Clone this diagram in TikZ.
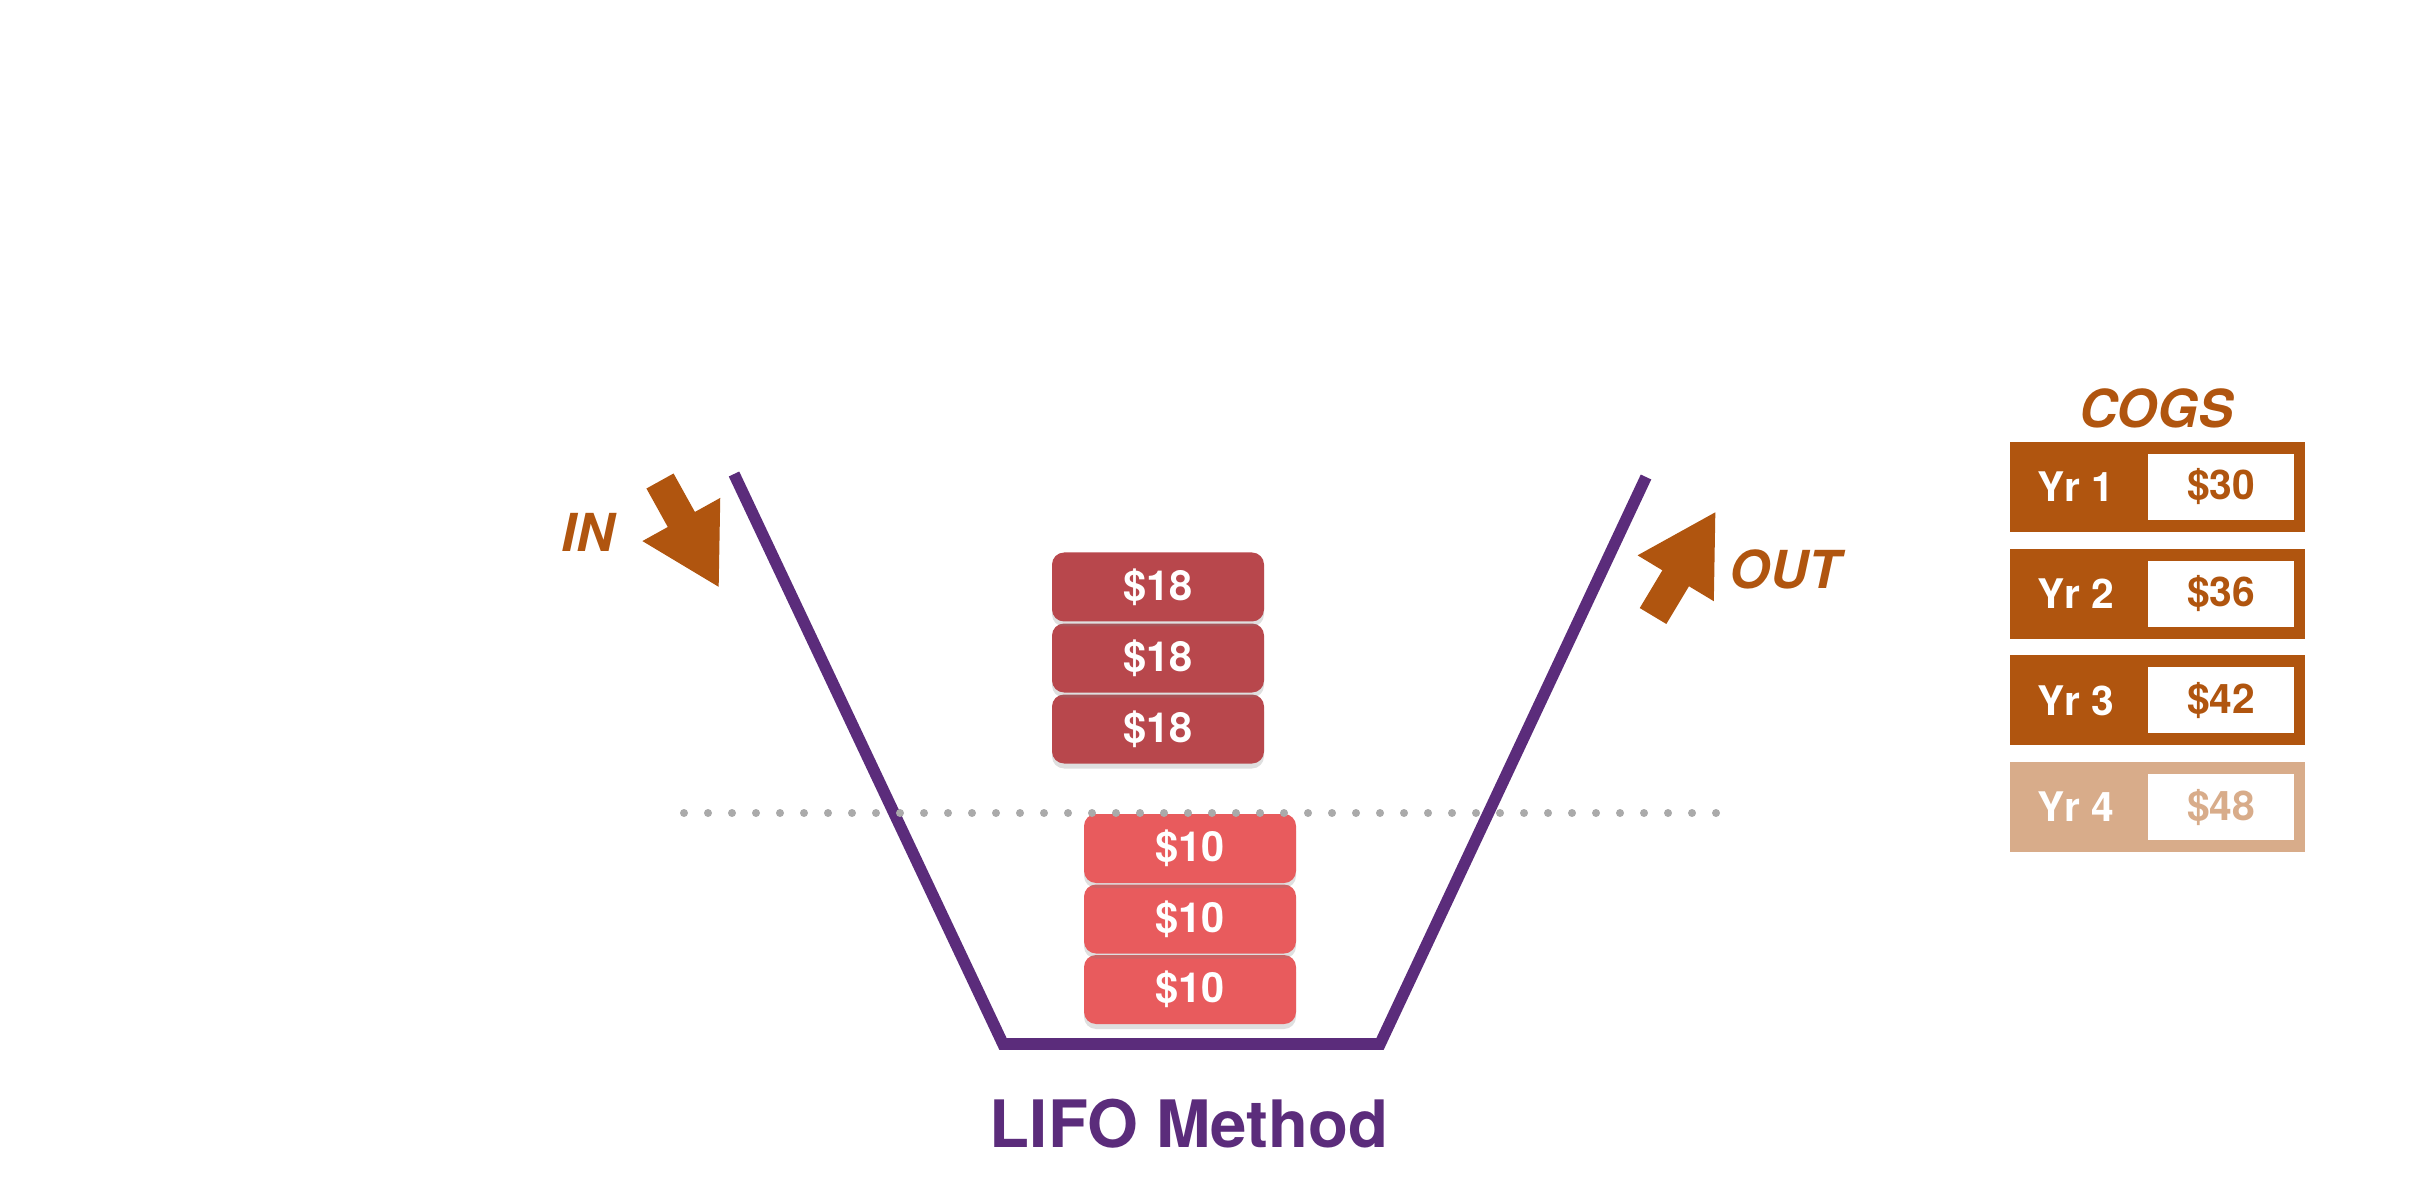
\documentclass[tikz,border=0pt]{standalone}
\usepackage{fontspec}
\setmainfont{TeX Gyre Heros}
\usetikzlibrary{shadows}

\definecolor{lifopurple}{RGB}{91,44,123}
\definecolor{cogsbrown}{RGB}{176,85,15}
\definecolor{cogslight}{RGB}{216,172,138}
\definecolor{newred}{RGB}{184,71,76}
\definecolor{oldred}{RGB}{232,91,93}
\definecolor{dotgray}{RGB}{170,170,170}

\begin{document}
\begin{tikzpicture}[x=0.1mm, y=-0.1mm,
    layer/.style={rounded corners=1.2mm, minimum width=21.2mm, minimum height=6.9mm,
        inner sep=0pt, text=white, font=\fontsize{11.8}{13}\selectfont\bfseries,
        drop shadow={shadow xshift=0pt, shadow yshift=-0.5mm, opacity=0.25}},
    bucket/.style={line width=3.3pt, draw=lifopurple, line join=miter},
    flowlabel/.style={text=cogsbrown, inner sep=0pt, font=\fontsize{14.9}{17}\selectfont\bfseries\itshape},
    blockarrow/.style={fill=cogsbrown},
    cogsrow/.style={fill=#1, minimum width=29.5mm, minimum height=9mm, inner sep=0pt},
    cogsval/.style={fill=white, text=#1, minimum width=14.6mm, minimum height=6.6mm, inner sep=0pt,
        font=\fontsize{11.6}{13}\selectfont\bfseries},
    yrlabel/.style={text=white, inner sep=0pt, font=\fontsize{11.6}{13}\selectfont\bfseries}]
    % --- 1. Parameters ---
    \def\shaftL{44}
    \def\shaftW{15.5}
    \def\headW{44.5}
    \def\arrowL{121}
    \def\rowGap{106.7}

    \useasboundingbox (0,0) rectangle (2426,1192);

    % --- 2. Bucket ---
    \coordinate (inTop) at (734,474);
    \coordinate (leftFoot) at (1003,1044);
    \coordinate (rightFoot) at (1380,1044);
    \coordinate (outTop) at (1646,477);
    \draw[bucket] (inTop) -- (leftFoot) -- (rightFoot) -- (outTop);

    % --- 3. Layers (old at the bottom, new on top) ---
    \foreach \i in {1,2,3}
        \node[layer, fill=oldred] (old\i) at (1190,{1060-70.5*\i}) {\$10};
    \foreach \i in {1,2,3}
        \node[layer, fill=newred] (new\i) at (1158,{800-71*\i}) {\$18};

    % dotted divider
    \foreach \k in {0,...,43}
        \fill[dotgray] ({684+24*\k},813) circle (0.4mm);

    % --- 4. IN and OUT arrows ---
    \fill[blockarrow, shift={(660,481)}, rotate=-61]
        (0,-\shaftW) -- (\shaftL,-\shaftW) -- (\shaftL,-\headW) -- (\arrowL,0)
        -- (\shaftL,\headW) -- (\shaftL,\shaftW) -- (0,\shaftW) -- cycle;
    \node[flowlabel] (inlabel) at (588,532) {IN};

    \fill[blockarrow, shift={(1653,616)}, rotate=59]
        (0,-\shaftW) -- (\shaftL,-\shaftW) -- (\shaftL,-\headW) -- (\arrowL,0)
        -- (\shaftL,\headW) -- (\shaftL,\shaftW) -- (0,\shaftW) -- cycle;
    \node[flowlabel] (outlabel) at (1785,569) {OUT};

    % --- 5. COGS table ---
    \node[flowlabel] (cogs) at (2156,408) {COGS};
    \foreach \i/\val in {1/30,2/36,3/42} {
        \node[cogsrow=cogsbrown] (row\i) at (2157.5,{487+\rowGap*(\i-1)}) {};
        \node[cogsval=cogsbrown] (val\i) at (2221,{487+\rowGap*(\i-1)}) {\$\val};
        \node[yrlabel] (yr\i) at (2076,{487+\rowGap*(\i-1)}) {Yr \i};
    }
    \node[cogsrow=cogslight] (row4) at (2157.5,{487+\rowGap*3}) {};
    \node[cogsval=cogslight] (val4) at (2221,{487+\rowGap*3}) {\$48};
    \node[yrlabel] (yr4) at (2076,{487+\rowGap*3}) {Yr 4};

    % --- 6. Title ---
    \node[text=lifopurple, font=\fontsize{18.6}{22}\selectfont\bfseries] (title) at (1189,1124) {LIFO Method};
\end{tikzpicture}
\end{document}
